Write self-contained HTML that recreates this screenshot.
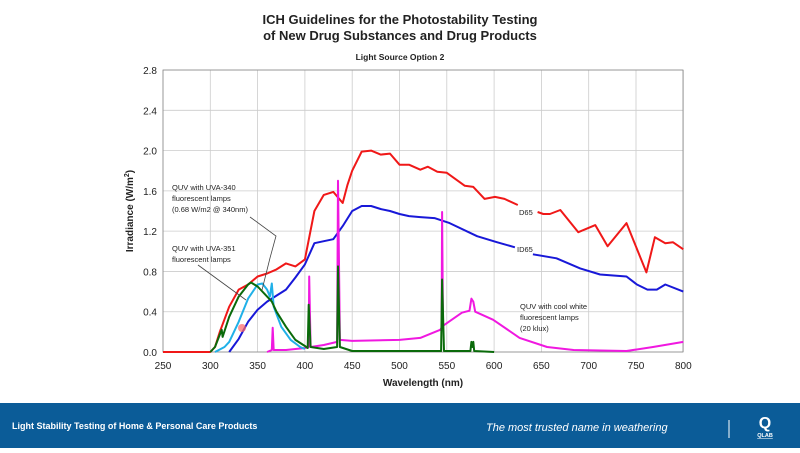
<!DOCTYPE html>
<html><head><meta charset="utf-8"><style>
body{margin:0;width:800px;height:448px;overflow:hidden;background:#fff;font-family:"Liberation Sans",Arial,sans-serif}
</style></head><body>
<svg id="s" width="800" height="448" xmlns="http://www.w3.org/2000/svg" font-family="Liberation Sans, Arial, sans-serif">
<text x="400" y="24" text-anchor="middle" font-size="13" font-weight="bold" fill="#222">ICH Guidelines for the Photostability Testing</text>
<text x="400" y="40" text-anchor="middle" font-size="13" font-weight="bold" fill="#222">of New Drug Substances and Drug Products</text>
<text x="400" y="60" text-anchor="middle" font-size="8.5" font-weight="bold" fill="#222">Light Source Option 2</text>
<g id="grid"></g>
<text transform="translate(133,211) rotate(-90)" text-anchor="middle" font-size="10" font-weight="bold" fill="#222">Irradiance (W/m<tspan font-size="7" dy="-4">2</tspan><tspan dy="4">)</tspan></text>
<text x="423" y="386" text-anchor="middle" font-size="10" font-weight="bold" fill="#222">Wavelength (nm)</text>
<g id="lines"></g>
<g font-size="7.5" fill="#222">
<text x="172" y="190">QUV with UVA-340</text>
<text x="172" y="201">fluorescent lamps</text>
<text x="172" y="212">(0.68 W/m2 @ 340nm)</text>
<text x="172" y="251">QUV with UVA-351</text>
<text x="172" y="262">fluorescent lamps</text>
<text x="519" y="215">D65</text>
<text x="517" y="252">ID65</text>
<text x="520" y="309">QUV with cool white</text>
<text x="520" y="320">fluorescent lamps</text>
<text x="520" y="331">(20 klux)</text>
</g>
<polyline points="250,217 276,236 270,258 262,290" fill="none" stroke="#444" stroke-width="0.8"/>
<polyline points="198,265 246,300" fill="none" stroke="#444" stroke-width="0.8"/>
<circle cx="242" cy="328" r="4" fill="#f66" opacity="0.7"/>
<rect x="0" y="403" width="800" height="45" fill="#0b5c98"/>
<text x="12" y="429" font-size="9" font-weight="bold" fill="#fff">Light Stability Testing of Home &amp; Personal Care Products</text>
<text x="486" y="431" font-size="11" font-style="italic" fill="#fff">The most trusted name in weathering</text>
<line x1="729" y1="420" x2="729" y2="438" stroke="#fff" stroke-width="1"/>
<text x="765" y="428" text-anchor="middle" font-size="16" font-weight="bold" fill="#fff">Q</text>
<text x="765" y="437" text-anchor="middle" font-size="5.5" font-weight="bold" fill="#fff" text-decoration="underline">QLAB</text>
</svg>
<script>
const X=w=>163+(w-250)*0.946, Y=v=>352-v*100.7;
let g=document.getElementById('grid'),h='';
for(let w=250;w<=800;w+=50){h+=`<line x1="${X(w)}" y1="70" x2="${X(w)}" y2="352" stroke="#ccc" stroke-width="0.8"/>`;h+=`<text x="${X(w)}" y="369" text-anchor="middle" font-size="10" fill="#222">${w}</text>`;}
for(let i=0;i<=7;i++){let v=i*0.4,y=Y(v);h+=`<line x1="163" y1="${y}" x2="683" y2="${y}" stroke="#ccc" stroke-width="0.8"/>`;h+=`<text x="157" y="${y+4}" text-anchor="end" font-size="10" fill="#222">${v.toFixed(1)}</text>`;}
h+=`<rect x="163" y="70" width="520" height="282" fill="none" stroke="#888" stroke-width="0.8"/>`;
g.innerHTML=h;
const L=[
["#f01818",[[250,0],[300,0],[305,0.05],[310,0.2],[320,0.45],[330,0.62],[340,0.67],[350,0.75],[360,0.78],[370,0.82],[380,0.88],[390,0.85],[400,0.92],[410,1.4],[420,1.56],[430,1.59],[440,1.48],[445,1.66],[450,1.8],[460,1.99],[470,2.0],[480,1.96],[490,1.97],[500,1.86],[510,1.86],[522,1.81],[530,1.84],[540,1.79],[550,1.78],[569,1.65],[578,1.64],[590,1.52],[601,1.54],[611,1.52],[625,1.46]]],
["#f01818",[[646,1.39],[652,1.37],[659,1.37],[670,1.41],[689,1.19],[707,1.26],[720,1.05],[740,1.28],[761,0.79],[770,1.14],[781,1.08],[789,1.09],[800,1.02]]],
["#1818d8",[[320,0],[330,0.13],[340,0.3],[350,0.42],[360,0.5],[370,0.56],[380,0.62],[390,0.74],[400,0.87],[410,1.08],[420,1.1],[430,1.12],[440,1.25],[450,1.4],[460,1.45],[470,1.45],[480,1.42],[490,1.4],[500,1.37],[510,1.35],[522,1.34],[537,1.33],[553,1.28],[582,1.15],[603,1.09],[622,1.04]]],
["#1818d8",[[641,0.97],[666,0.93],[691,0.83],[712,0.77],[740,0.75],[751,0.67],[762,0.62],[772,0.62],[781,0.67],[800,0.6]]],
["#f018e0",[[360,0],[365,0.02],[366,0.24],[367,0.02],[380,0.02],[400,0.04],[404,0.05],[404.5,0.75],[406,0.05],[420,0.07],[434,0.1],[435,1.7],[437,0.12],[450,0.11],[500,0.12],[522,0.14],[543,0.22],[544.5,0.24],[545,1.39],[546,0.26],[566,0.39],[574,0.41],[576,0.53],[578,0.5],[580,0.4],[599,0.32],[627,0.14],[656,0.05],[684,0.02],[740,0.01],[768,0.05],[800,0.1]]],
["#20b0e8",[[305,0],[315,0.05],[320,0.1],[330,0.3],[340,0.53],[350,0.67],[355,0.68],[360,0.62],[363,0.55],[365,0.68],[367,0.45],[375,0.25],[385,0.12],[395,0.05],[400,0.03]]],
["#0a6a0a",[[300,0],[305,0.05],[312,0.22],[313,0.15],[320,0.35],[330,0.55],[340,0.67],[343,0.69],[350,0.65],[360,0.55],[365,0.5],[370,0.4],[380,0.25],[390,0.12],[400,0.06],[403,0.04],[404,0.47],[406,0.05],[420,0.03],[434,0.05],[435,0.85],[437,0.05],[450,0.01],[544,0.01],[545,0.72],[547,0.01],[575,0.01],[576,0.1],[577,0.05],[578,0.1],[579,0.01],[600,0]]]];
let l='';for(const [c,d] of L){l+=`<polyline fill="none" stroke="${c}" stroke-width="2" stroke-linejoin="round" points="${d.map(p=>X(p[0]).toFixed(1)+','+Y(p[1]).toFixed(1)).join(' ')}"/>`;}
document.getElementById('lines').innerHTML=l;
</script>
</body></html>
